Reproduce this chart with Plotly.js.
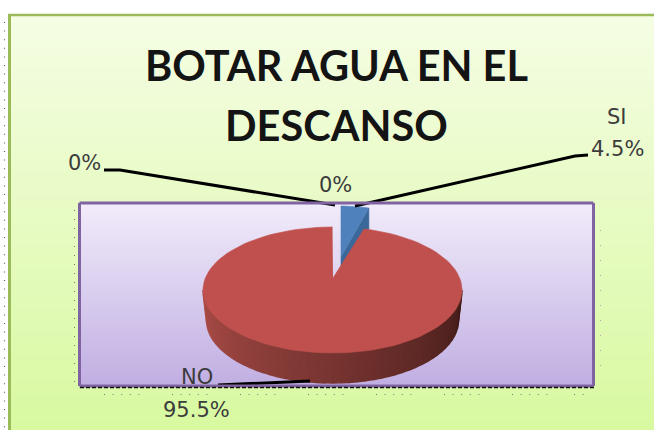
<!DOCTYPE html>
<html>
<head>
<meta charset="utf-8">
<script src="https://cdn.plot.ly/plotly-3.0.1.min.js"></script>
<style>html,body{margin:0;padding:0;background:#fff;overflow:hidden}#chart{width:654px;height:430px}</style>
</head>
<body>
<div id="chart"></div>
<script>
// Data
const categories = ['SI', 'NO', '', ''];
const sharePct = [4.5, 95.5, 0, 0];
const titleLines = ['BOTAR AGUA EN EL', 'DESCANSO'];

// Palette
const BLUE_TOP = '#4f81bd', BLUE_CUT = '#3b689a', RED_TOP = '#c0504d';
const WALL_FROM = [172, 76, 72], WALL_TO = [66, 28, 25];
const BORDER_GREEN = '#9bbb59', BORDER_PURPLE = '#8064a2';

const lerp = (a, b, t) => a + (b - a) * t;
const mix = (a, b, t) => 'rgb(' + a.map((v, i) => Math.round(lerp(v, b[i], t))).join(',') + ')';
const deg = d => d * Math.PI / 180;
const onEllipse = (e, a) => [e.cx + e.rx * Math.sin(deg(a)), e.cy - e.ry * Math.cos(deg(a))];

const topFace = {cx: 332.5, cy: 290, rx: 129.5, ry: 63};
const baseFace = {cx: 332.5, cy: 320, rx: 126, ry: 63};
const blueFace = {cx: 341, cy: 257, rx: 100, ry: 51};
const redApex = [333, 278];
const PERSPECTIVE = 0.87; // foreshortening of the angle at the back of the pie

function poly(pts, color, name, lw) {
  return {
    type: 'scatter', mode: 'lines', x: pts.map(p => p[0]), y: pts.map(p => p[1]),
    fill: 'toself', fillcolor: color, line: {color: color, width: lw === undefined ? 0.6 : lw},
    hoverinfo: 'skip', showlegend: false, name: name || ''
  };
}

const traces = [];

// Red side wall: strips along the front of the pie
const WALL_STRIPS = 48;
for (let i = 0; i < WALL_STRIPS; i++) {
  const a0 = lerp(270, 90, i / WALL_STRIPS), a1 = lerp(270, 90, (i + 1) / WALL_STRIPS);
  const p = [onEllipse(topFace, a0), onEllipse(topFace, a1), onEllipse(baseFace, a1), onEllipse(baseFace, a0)];
  traces.push(poly(p, mix(WALL_FROM, WALL_TO, i / (WALL_STRIPS - 1)), '', 1.5));
}

// Blue slice (pulled out of the pie)
const blueSweep = sharePct[0] / 100 * 360;
const blueArc = [];
for (let a = 0; a <= blueSweep + 0.001; a += blueSweep / 12) blueArc.push(onEllipse(blueFace, a));
const blueEnd = blueArc[blueArc.length - 1];
traces.push(poly([[blueFace.cx, blueFace.cy + 10], [blueFace.cx, blueFace.cy], blueEnd, [blueEnd[0], blueEnd[1] + 21]], BLUE_CUT, categories[0]));
traces.push(poly([[blueFace.cx, blueFace.cy]].concat(blueArc), BLUE_TOP, categories[0]));

// Red slice top
const redPts = [redApex];
for (let a = blueSweep * PERSPECTIVE; a < 360; a += 3) redPts.push(onEllipse(topFace, a));
redPts.push(onEllipse(topFace, 360));
traces.push(poly(redPts, RED_TOP, categories[1]));

// Backgrounds as strips
const shapes = [];
function vStrips(x0, x1, y0, y1, cTop, cBot) {
  for (let y = y0; y < y1; y += 2) {
    shapes.push({type: 'rect', layer: 'below', x0: x0, x1: x1, y0: y, y1: Math.min(y + 3, y1),
      fillcolor: mix(cTop, cBot, (y - y0) / (y1 - y0)), line: {width: 0}});
  }
}
vStrips(9, 654, 15, 430, [245, 253, 228], [216, 249, 160]);
vStrips(80, 593, 204, 386, [241, 235, 250], [192, 174, 226]);

function seg(x0, y0, x1, y1, color, width, dash) {
  shapes.push({type: 'line', layer: 'above', x0, y0, x1, y1, line: {color, width, dash: dash || 'solid'}});
}
// Frames
seg(9.5, 14, 9.5, 430, BORDER_GREEN, 3);
seg(8, 15, 654, 15, BORDER_GREEN, 2.5);
seg(79.5, 203, 593.5, 203, BORDER_PURPLE, 3);
seg(79.5, 386, 593.5, 386, BORDER_PURPLE, 3);
seg(79.5, 203, 79.5, 386, BORDER_PURPLE, 3);
seg(593.5, 203, 593.5, 386, BORDER_PURPLE, 3);
// Selection-handle dots and dashes
seg(80, 387.5, 594, 387.5, '#111', 1.5, '4px,2px');
seg(4.5, 22, 4.5, 430, '#666', 1.2, '1px,7.6px');
seg(74.5, 210, 74.5, 386, '#777', 1, '1px,8px');
seg(600.5, 230, 600.5, 380, '#aaa', 1, '1px,14px');
[[104, 140], [172, 208], [240, 276], [308, 344], [376, 412], [444, 480], [512, 548], [574, 590]].forEach(g =>
  seg(g[0], 394.5, g[1], 394.5, '#777', 1, '1px,7.6px'));

// Leader lines
function leader(xs, ys) {
  traces.push({type: 'scatter', mode: 'lines', x: xs, y: ys, line: {color: '#000', width: 3},
    hoverinfo: 'skip', showlegend: false});
}
leader([104, 120, 335], [170, 170, 205]);
leader([355, 575, 588], [206, 156, 155]);
leader([218, 245, 310], [385, 384, 381]);

// Text
const LABEL_FONT = {family: 'DejaVu Sans, sans-serif', size: 21, color: '#3c3c3c'};
function label(x, y, text) {
  return {x, y, text, showarrow: false, xanchor: 'center', yanchor: 'middle', font: LABEL_FONT};
}
function pct(v) { return v + '%'; }
const annotations = [
  label(617, 117, categories[0]),
  label(617, 149, pct(sharePct[0])),
  label(197, 377, categories[1]),
  label(196, 410, pct(sharePct[1])),
  label(84, 163, pct(sharePct[2])),
  label(335, 185, pct(sharePct[3])),
  {x: 336, y: 65, text: titleLines[0], showarrow: false, xanchor: 'center', yanchor: 'middle',
    font: {family: 'Lato, sans-serif', size: 41.5, color: '#141414', weight: 700}},
  {x: 336, y: 125, text: titleLines[1], showarrow: false, xanchor: 'center', yanchor: 'middle',
    font: {family: 'Lato, sans-serif', size: 41.5, color: '#141414', weight: 700}}
];

const layout = {
  width: 654, height: 430,
  margin: {l: 0, r: 0, t: 0, b: 0, pad: 0},
  paper_bgcolor: '#ffffff', plot_bgcolor: 'rgba(0,0,0,0)',
  xaxis: {range: [0, 654], visible: false, fixedrange: true},
  yaxis: {range: [430, 0], visible: false, fixedrange: true},
  showlegend: false, hovermode: false,
  shapes, annotations
};
Plotly.newPlot('chart', traces, layout, {displayModeBar: false, staticPlot: true});
</script>
</body>
</html>
